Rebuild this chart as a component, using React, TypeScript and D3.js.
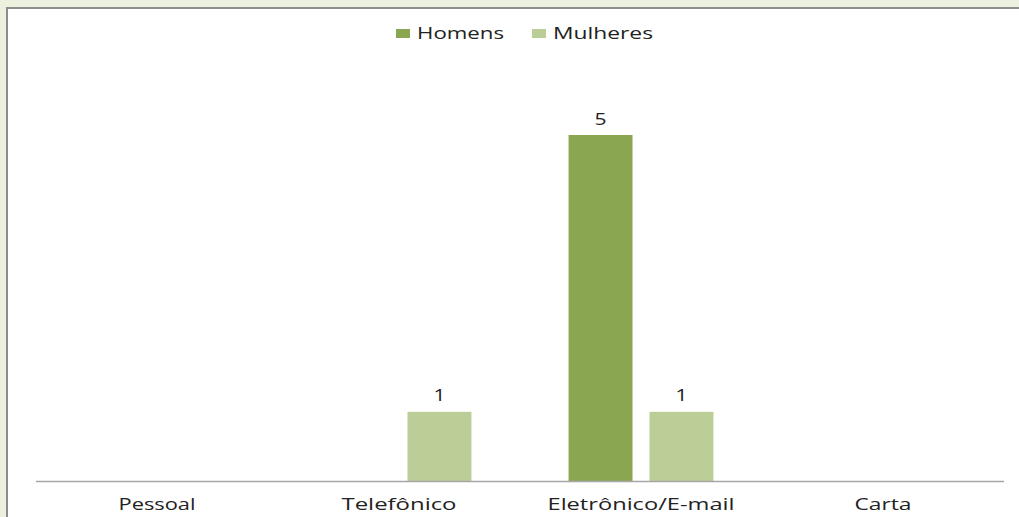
import React from "react";
import * as d3 from "d3";

const categories = ["Pessoal", "Telefônico", "Eletrônico/E-mail", "Carta"];
const seriesNames = ["Homens", "Mulheres"];
const homens = [0, 0, 5, 0];
const mulheres = [0, 1, 1, 0];
const seriesValues = [homens, mulheres];
const colors = ["#8ba651", "#bbce97"];
const catLabelWidths = [77, 115, 187, 57];
const legendWidths = [87, 100];

export default function App() {
  const W = 1019, H = 517;
  const x = d3.scaleBand<string>().domain(categories).range([36, 1004]).paddingInner(0).paddingOuter(0);
  const xs = d3.scaleBand<string>().domain(seriesNames).range([0, x.bandwidth()]).paddingInner(0.21).paddingOuter(0.6);
  const y = d3.scaleLinear().domain([0, 5]).range([481, 135]);
  const font = "'Open Sans', 'Liberation Sans', sans-serif";
  const legendX = [396, 532];
  return (
    <svg width={W} height={H} style={{ position: "absolute", left: 0, top: 0 }} fontFamily={font}>
      <rect x={0} y={0} width={W} height={H} fill="#ebf1de" />
      <rect x={6} y={7} width={W} height={H} fill="#8c8c8c" />
      <rect x={8} y={9} width={W} height={H} fill="#ffffff" />
      {seriesNames.map((s, i) => (
        <g key={s}>
          <rect x={legendX[i]} y={29} width={14} height={9} fill={colors[i]} />
          <text x={legendX[i] + 21} y={38.5} fontSize={16} fill="#222" textLength={legendWidths[i]} lengthAdjust="spacingAndGlyphs">{s}</text>
        </g>
      ))}
      {seriesNames.map((s, si) =>
        categories.map((c, ci) => {
          const v = seriesValues[si][ci];
          if (v <= 0) return null;
          const bx = (x(c) as number) + (xs(s) as number);
          const bw = xs.bandwidth();
          return (
            <g key={s + c}>
              <rect x={bx} y={y(v)} width={bw} height={y(0) - y(v)} fill={colors[si]} />
              <text x={bx + bw / 2} y={y(v) - 10.5} textAnchor="middle" fontSize={16} fill="#222" textLength={12} lengthAdjust="spacingAndGlyphs">{v}</text>
            </g>
          );
        })
      )}
      <line x1={36} x2={1004} y1={481.5} y2={481.5} stroke="#a6a6a6" strokeWidth={1.5} />
      {categories.map((c, i) => (
        <text key={c} x={(x(c) as number) + x.bandwidth() / 2} y={510} textAnchor="middle" fontSize={16} fill="#222" textLength={catLabelWidths[i]} lengthAdjust="spacingAndGlyphs">{c}</text>
      ))}
    </svg>
  );
}
